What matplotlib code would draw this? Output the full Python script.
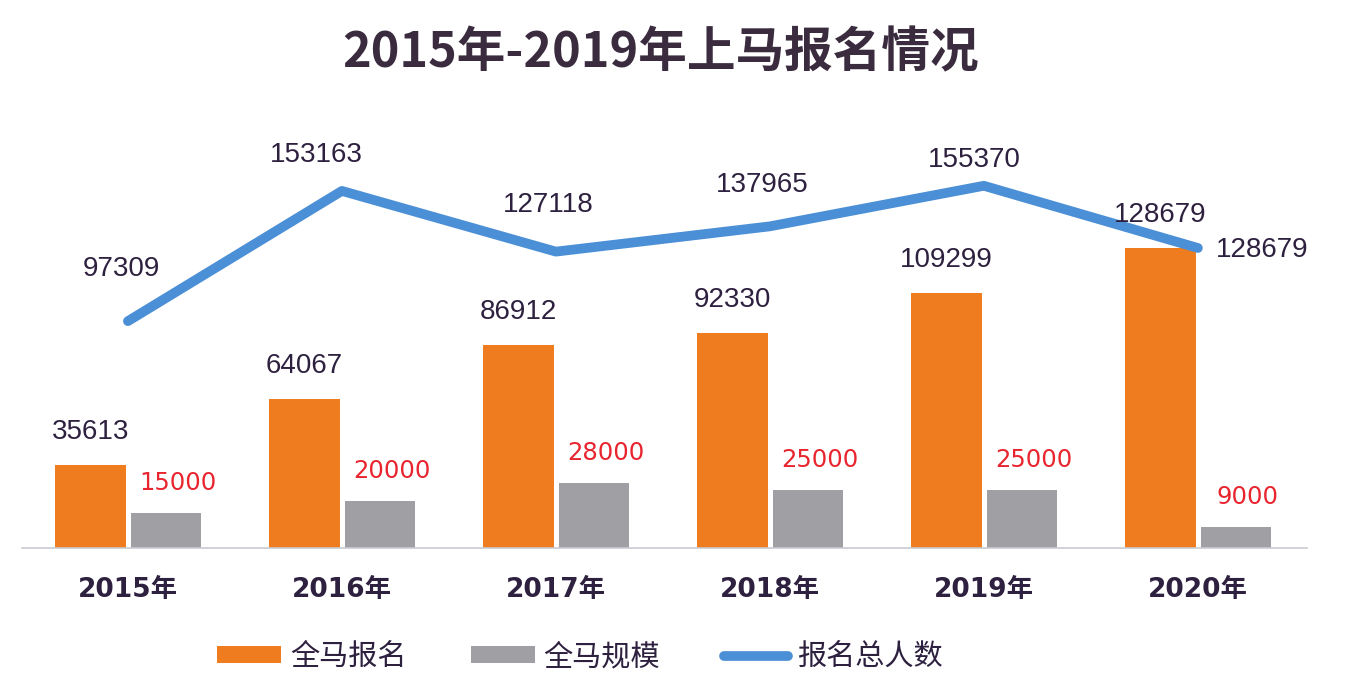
import numpy as np
import matplotlib
matplotlib.use("Agg")
import matplotlib.pyplot as plt
from matplotlib.patches import Patch
from matplotlib.lines import Line2D

plt.rcParams['font.family'] = ['Noto Sans CJK SC', 'DejaVu Sans']

# ---- data ----
years = ['2015年', '2016年', '2017年', '2018年', '2019年', '2020年']
full_signup = [35613, 64067, 86912, 92330, 109299, 128679]   # 全马报名
full_scale = [15000, 20000, 28000, 25000, 25000, 9000]       # 全马规模
total_signup = [97309, 153163, 127118, 137965, 155370, 128679]  # 报名总人数

# label offsets for the line (pixels)
line_label_offsets = [(-6, 52), (-26, 36), (-8, 47), (-8, 41), (-10, 26), (64, -2)]

ORANGE = '#ef7d1f'
GRAY = '#a0a0a4'
BLUE = '#4b8fd6'
RED = '#e8242e'
DARK = '#2e2140'

fig = plt.figure(figsize=(13.56, 6.88), dpi=100)
fig.patch.set_facecolor('white')
ax = fig.add_axes([22 / 1356, 140 / 688, 1285 / 1356, 408 / 688])

x = np.arange(len(years))
w = 0.33
ax.bar(x - 0.175, full_signup, width=w, color=ORANGE, zorder=2)
ax.bar(x + 0.178, full_scale, width=w, color=GRAY, zorder=2)
ax.plot(x, total_signup, color=BLUE, lw=7, solid_capstyle='round',
        solid_joinstyle='round', zorder=3)

ax.set_xlim(-0.495, 5.51)
ax.set_ylim(0, 175000)

# bar labels
for xi, v in zip(x, full_signup):
    ax.annotate(str(v), (xi - 0.175, v), xytext=(0, 33), textcoords='offset pixels',
                ha='center', va='center', fontsize=20, color=DARK,
                family=['Liberation Sans', 'DejaVu Sans'], zorder=4)
for xi, v in zip(x, full_scale):
    ax.annotate(str(v), (xi + 0.178, v), xytext=(12, 30), textcoords='offset pixels',
                ha='center', va='center', fontsize=17.5, color=RED,
                family=['DejaVu Sans'], zorder=4)
for xi, v, off in zip(x, total_signup, line_label_offsets):
    ax.annotate(str(v), (xi, v), xytext=off, textcoords='offset pixels',
                ha='center', va='center', fontsize=20, color=DARK,
                family=['Liberation Sans', 'DejaVu Sans'], zorder=4)

# axes styling
for s in ['top', 'right', 'left']:
    ax.spines[s].set_visible(False)
ax.spines['bottom'].set_color('#c9cad2')
ax.spines['bottom'].set_linewidth(1.2)
ax.set_yticks([])
ax.set_xticks(x)
ax.set_xticklabels(years, fontsize=19, fontweight='bold', color=DARK,
                   family=['DejaVu Sans', 'Noto Sans CJK SC'])
ax.tick_params(axis='x', length=0, pad=21)

fig.text(661 / 1356, 1 - 53 / 688, '2015年-2019年上马报名情况', ha='center', va='center',
         fontsize=35, fontweight='bold', color='#3a2c3e')

handles = [Patch(facecolor=ORANGE), Patch(facecolor=GRAY),
           Line2D([0], [0], color=BLUE, lw=7, solid_capstyle='round')]
labels = ['全马报名', '全马规模', '报名总人数']
leg = fig.legend(handles, labels, loc='center', bbox_to_anchor=(580 / 1356, 1 - 657 / 688),
                 ncol=3, frameon=False, fontsize=21, handlelength=2.2, handleheight=0.5,
                 handletextpad=0.3, columnspacing=2.2, labelcolor=DARK)

fig.savefig('out.png', dpi=100)
